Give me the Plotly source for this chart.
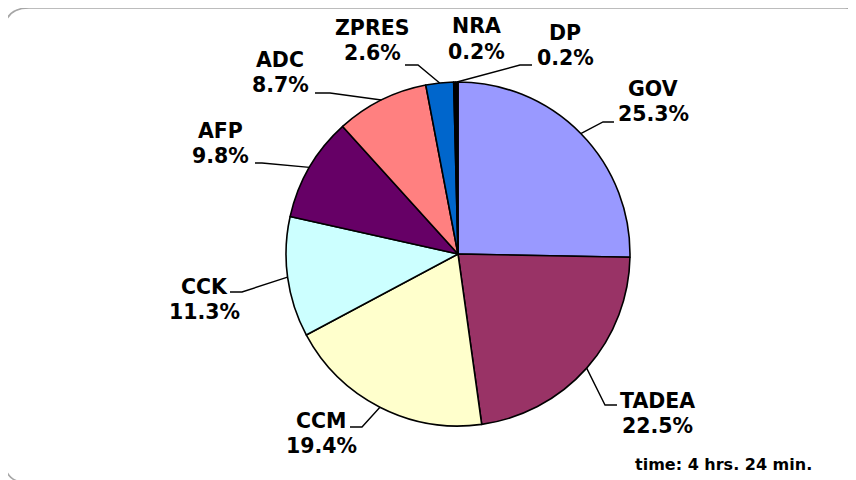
import math
import plotly.graph_objects as go

# ---- data ----
categories = ["GOV", "TADEA", "CCM", "CCK", "AFP", "ADC", "ZPRES", "NRA", "DP"]
shares = [25.3, 22.5, 19.4, 11.3, 9.8, 8.7, 2.6, 0.2, 0.2]
note_text = "time: 4 hrs. 24 min."

# ---- styles / layout ----
colors = ["#9999FF", "#993366", "#FFFFCC", "#CCFFFF", "#660066",
          "#FF8080", "#0066CC", "#000000", "#000000"]
OFF = 8                      # page body margin in the browser
W, H = 856 - OFF, 480 - OFF
CX, CY, R = 458, 254, 172    # pie centre / radius in reference pixels
# label centres (px) and leader elbow/end points (px); None = no leader
label_pos = [(653, 101), (657, 413), (321, 433), (204, 299), (220, 143),
             (280, 73), (372, 40), (476, 39), (565, 45)]
leaders = [[(603, 122), (614, 122)], [(605, 405), (617, 405)],
           [(362, 427), (350, 427)], [(242, 292), (230, 292)],
           [(262, 163), (255, 163)], [(330, 93), (315, 93)],
           [(418, 65), (405, 65)], None, [(520, 65), (532, 65)]]
HALF_PITCH = 12.5
FONT = "DejaVu Sans"


def px(x):
    return (x - OFF) / W


def py(y):
    return 1 - (y - OFF) / H


fig = go.Figure(go.Pie(
    labels=categories, values=shares, sort=False, direction="clockwise",
    rotation=0, textinfo="none", hoverinfo="label+percent",
    marker=dict(colors=colors, line=dict(color="#000000", width=1.6)),
    domain=dict(x=[px(CX - R), px(CX + R)], y=[py(CY + R), py(CY - R)]),
    showlegend=False,
))

total = sum(shares)
annotations = []
shapes = []
cum = 0.0
for name, v, (lx, ly), lead in zip(categories, shares, label_pos, leaders):
    mid = (cum + v / 2) / total * 2 * math.pi
    cum += v
    ex = CX + R * math.sin(mid)
    ey = CY - R * math.cos(mid)
    pct = v / total * 100
    for txt, dy in ((name, -HALF_PITCH), (f"{pct:.1f}%", HALF_PITCH)):
        annotations.append(dict(
            x=px(lx), y=py(ly + dy), xref="paper", yref="paper",
            xanchor="center", yanchor="middle", showarrow=False,
            text=f"<b>{txt}</b>",
            font=dict(family=FONT, size=20.5, color="#000000")))
    if lead:
        pts = [(ex, ey)] + lead
        path = "M " + " L ".join(f"{px(a):.5f},{py(b):.5f}" for a, b in pts)
        shapes.append(dict(type="path", xref="paper", yref="paper", path=path,
                           line=dict(color="#000000", width=1.4)))

annotations.append(dict(
    x=px(723), y=py(464), xref="paper", yref="paper", xanchor="center",
    yanchor="middle", showarrow=False, text=f"<b>{note_text}</b>",
    font=dict(family=FONT, size=16, color="#000000")))

# rounded outer frame
x0, y0, x1, y1, rr = 4, 8, 870, 483, 25
frame = (f"M {px(x0 + rr)},{py(y0)} L {px(x1 - rr)},{py(y0)} "
         f"Q {px(x1)},{py(y0)} {px(x1)},{py(y0 + rr)} "
         f"L {px(x1)},{py(y1 - rr)} Q {px(x1)},{py(y1)} {px(x1 - rr)},{py(y1)} "
         f"L {px(x0 + rr)},{py(y1)} Q {px(x0)},{py(y1)} {px(x0)},{py(y1 - rr)} "
         f"L {px(x0)},{py(y0 + rr)} Q {px(x0)},{py(y0)} {px(x0 + rr)},{py(y0)} Z")
shapes.append(dict(type="path", xref="paper", yref="paper", path=frame,
                   line=dict(color="#A6A6A6", width=1.6), layer="below"))

fig.update_layout(
    width=W, height=H, margin=dict(l=0, r=0, t=0, b=0),
    paper_bgcolor="#FFFFFF", plot_bgcolor="#FFFFFF",
    annotations=annotations, shapes=shapes,
)
fig.write_html("out.html")
